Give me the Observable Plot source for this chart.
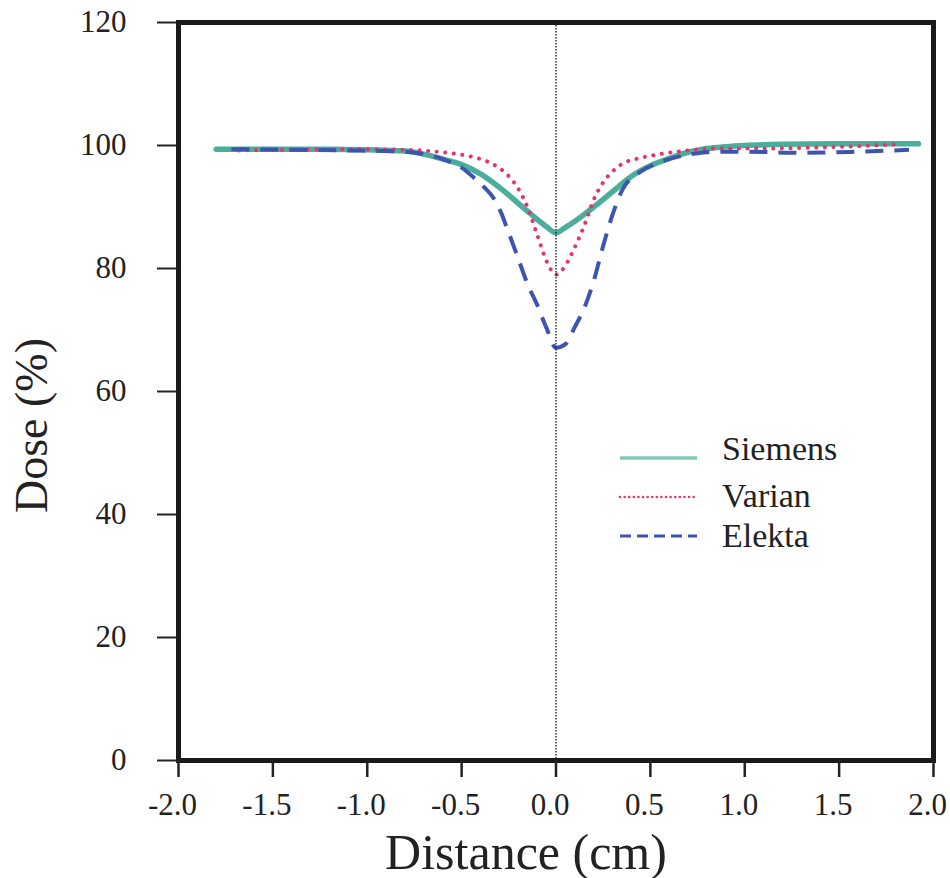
<!DOCTYPE html>
<html>
<head>
<meta charset="utf-8">
<script src="https://cdn.jsdelivr.net/npm/d3@7"></script>
<script src="https://cdn.jsdelivr.net/npm/@observablehq/plot@0.6"></script>
<style>
  html, body { margin: 0; padding: 0; background: white; }
  #wrap { position: relative; width: 950px; height: 878px; overflow: visible; }
  #chart svg { overflow: visible; }
  #chart svg, #chart svg text { font-family: "Liberation Serif", "Times New Roman", serif !important; }
  #legend { position: absolute; left: 600px; top: 420px; }
  #legend text { font-family: "Liberation Serif", "Times New Roman", serif; font-size: 34px; fill: #222; }
</style>
</head>
<body>
<div id="wrap">
  <div id="chart"></div>
  <svg id="legend" width="300" height="150"></svg>
</div>
<script>
// Tick values
const xTicks = [-2.0, -1.5, -1.0, -0.5, 0.0, 0.5, 1.0, 1.5, 2.0];
const yTicks = [0, 20, 40, 60, 80, 100, 120];

// Series names
const seriesNames = ["Siemens", "Varian", "Elekta"];

// Siemens (solid)
const siemensX = [-1.80,-1.5,-1.2,-1.0,-0.8,-0.7,-0.6,-0.5,-0.4,-0.3,-0.2,-0.15,-0.1,-0.05,0,0.05,0.1,0.15,0.2,0.3,0.4,0.5,0.6,0.7,0.8,0.9,1.0,1.2,1.5,1.7,1.92];
const siemensY = [99.4,99.4,99.4,99.3,99.1,98.6,97.8,96.9,95.4,93.2,90.6,89.3,88.0,86.8,85.8,86.7,87.7,88.8,90.0,92.5,95.0,96.7,97.9,98.9,99.5,99.8,100.0,100.2,100.3,100.3,100.3];

// Varian (dotted)
const varianX = [-1.68,-1.4,-1.1,-0.8,-0.6,-0.5,-0.4,-0.33,-0.25,-0.2,-0.15,-0.1,-0.05,0,0.05,0.1,0.15,0.2,0.25,0.3,0.35,0.45,0.55,0.7,0.85,1.0,1.3,1.6,1.83];
const varianY = [99.2,99.3,99.4,99.3,98.9,98.5,97.8,96.9,95.0,93.0,89.9,85.5,81.2,79.0,80.5,83.5,87.0,91.2,94.0,95.8,97.0,98.0,98.6,99.2,99.5,99.5,99.6,99.9,100.2];

// Elekta (dashed)
const elektaX = [-1.72,-1.4,-1.1,-0.8,-0.7,-0.6,-0.5,-0.44,-0.38,-0.33,-0.29,-0.26,-0.2,-0.15,-0.1,-0.05,0,0.05,0.1,0.15,0.2,0.25,0.3,0.35,0.45,0.55,0.7,0.85,1.0,1.3,1.6,1.87];
const elektaY = [99.4,99.3,99.2,99.0,98.6,97.8,96.4,94.9,93.2,91.4,89.0,86.6,81.6,77.4,74.1,70.3,67.1,67.7,70.5,73.6,78.0,83.7,88.8,92.7,95.8,97.3,98.5,99.0,99.0,98.8,99.0,99.3];

const toRows = (xs, ys, name) => xs.map((x, i) => ({x, y: ys[i], series: name}));
const siemens = toRows(siemensX, siemensY, seriesNames[0]);
const varian = toRows(varianX, varianY, seriesNames[1]);
const elekta = toRows(elektaX, elektaY, seriesNames[2]);

const serif = "Liberation Serif, Times New Roman, serif";
const fmt = d => d.toFixed(1);

const chart = Plot.plot({
  width: 950,
  height: 878,
  marginLeft: 178,
  marginRight: 17,
  marginTop: 22,
  marginBottom: 118,
  style: {color: "#222", background: "white", overflow: "visible"},
  x: {domain: [-2, 2]},
  y: {domain: [0, 120]},
  marks: [
    Plot.line(siemens, {x: "x", y: "y", stroke: "#4aae9b", strokeWidth: 5.5, curve: "monotone-x"}),
    Plot.line(varian, {x: "x", y: "y", stroke: "#e8336e", strokeWidth: 4, strokeDasharray: "0.1,8.5", strokeLinecap: "round", curve: "monotone-x"}),
    Plot.line(elekta, {x: "x", y: "y", stroke: "#3b55b0", strokeWidth: 4, strokeDasharray: "18,11", strokeLinecap: "butt", curve: "monotone-x"}),
    Plot.ruleX([0], {stroke: "#111", strokeWidth: 1.3, strokeDasharray: "1.5,1.5"}),
    Plot.frame({stroke: "#1a1a1a", strokeWidth: 5}),
    // x ticks (marks only)
    Plot.axisX({ticks: xTicks, tickFormat: () => "", tickSize: 17, label: null, strokeWidth: 2.5}),
    // x tick labels (text only, nudged left as in the reference)
    Plot.axisX({ticks: xTicks, tickFormat: fmt, tickSize: 0, tickPadding: 32, dx: -6, fontSize: 31, fontFamily: serif, label: null}),
    Plot.axisY({ticks: yTicks, tickSize: 21, tickPadding: 31, fontSize: 31, fontFamily: serif, label: null, strokeWidth: 2}),
    Plot.text(["Distance (cm)"], {text: d => d, frameAnchor: "bottom", textAnchor: "middle", dx: -30, dy: 92, fontSize: 50, fontFamily: serif, lineAnchor: "middle", fill: "#222"}),
    Plot.text(["Dose (%)"], {text: d => d, frameAnchor: "left", textAnchor: "middle", rotate: -90, dx: -146, dy: 34, fontSize: 46, fontFamily: serif, lineAnchor: "middle", fill: "#222"})
  ]
});
document.getElementById("chart").appendChild(chart);

// Legend overlay
const legendStyles = [
  {stroke: "#7fcab8", width: 3.5, dash: null, cap: "butt"},
  {stroke: "#e8336e", width: 2.5, dash: "0.1,4.5", cap: "round"},
  {stroke: "#3b55b0", width: 3, dash: "11,6", cap: "butt"}
];
const lg = d3.select("#legend");
const rowY = [38, 77, 116];
const textY = [40, 87, 127];
seriesNames.forEach((name, i) => {
  const s = legendStyles[i];
  const line = lg.append("line")
    .attr("x1", 20).attr("x2", 97)
    .attr("y1", rowY[i]).attr("y2", rowY[i])
    .attr("stroke", s.stroke).attr("stroke-width", s.width)
    .attr("stroke-linecap", s.cap);
  if (s.dash) line.attr("stroke-dasharray", s.dash);
  lg.append("text").attr("x", 122).attr("y", textY[i]).text(name);
});
</script>
</body>
</html>
